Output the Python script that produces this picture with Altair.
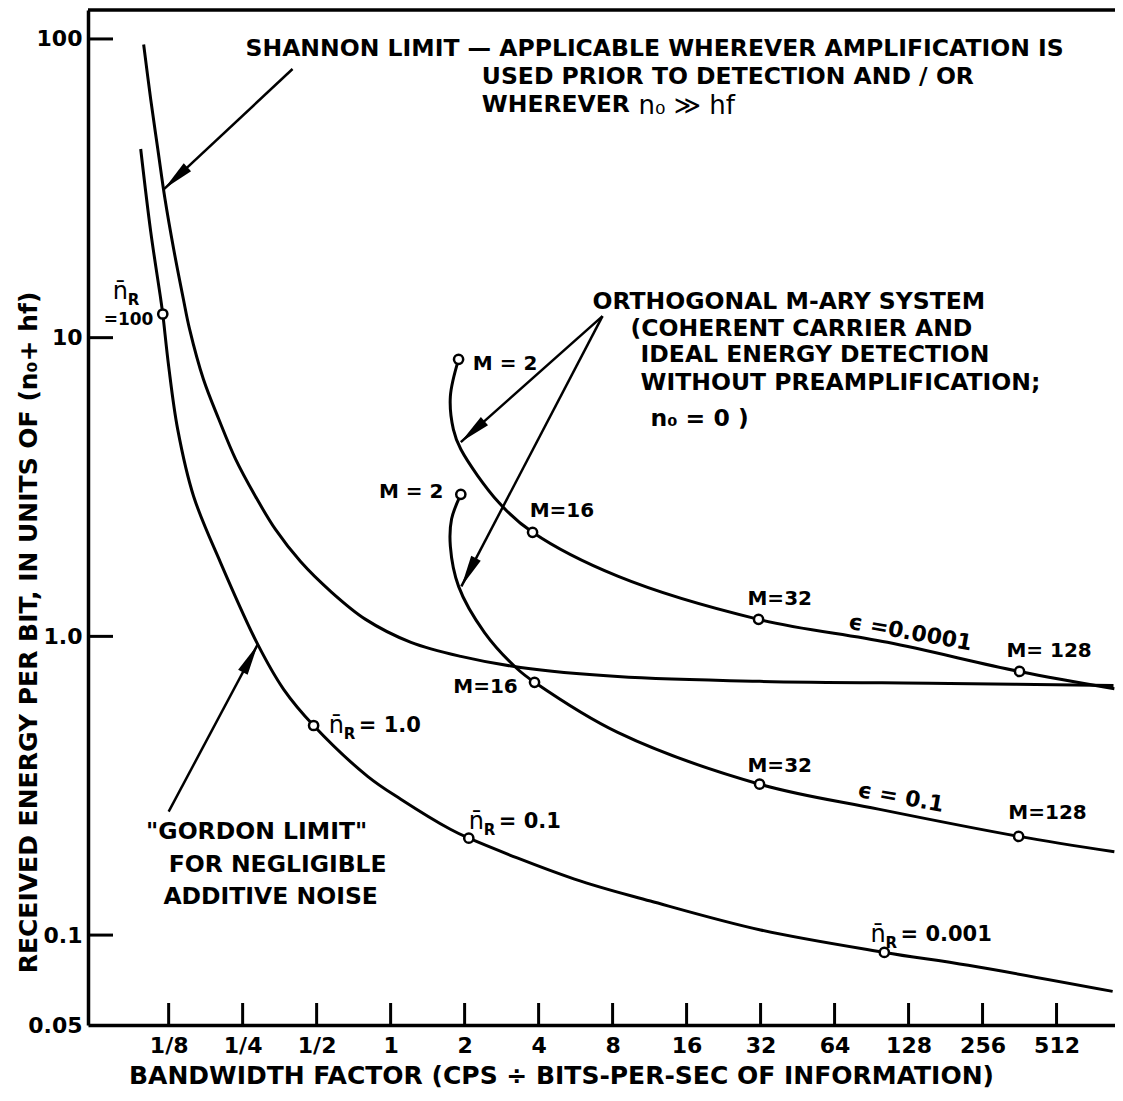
import math
import altair as alt
import pandas as pd

# ---------------- data ----------------
SHANNON_BW = [0.0989, 0.1056, 0.1129, 0.1208, 0.131, 0.1434, 0.152, 0.173, 0.200, 0.234, 0.282,
              0.340, 0.430, 0.570, 0.791, 1.21, 1.93, 3.38, 8.39, 31.7, 188, 873]
SHANNON_E = [95.8, 63.0, 42.8, 29.1, 19.8, 13.5, 10.7, 7.27, 5.33, 3.92, 2.94,
             2.28, 1.78, 1.415, 1.14, 0.955, 0.857, 0.787, 0.734, 0.707, 0.696, 0.685]

GORDON_BW = [0.0962, 0.1057, 0.116, 0.1183, 0.125, 0.136, 0.158, 0.203, 0.288, 0.367, 0.486,
             0.806, 1.10, 1.75, 2.08, 5.6, 11.4, 32, 102, 224, 866]
GORDON_E = [42.8, 22.6, 13.5, 12.0, 8.03, 4.94, 2.94, 1.77, 0.940, 0.665, 0.503,
            0.340, 0.285, 0.226, 0.211, 0.154, 0.130, 0.104, 0.0875, 0.0792, 0.0648]

EPS4_BW = [1.89, 1.75, 1.80, 1.93, 2.75, 3.78, 8.39, 31.4, 105, 362, 880]
EPS4_E = [8.46, 6.36, 4.93, 4.23, 2.81, 2.23, 1.59, 1.14, 0.955, 0.763, 0.668]

EPS1_BW = [1.93, 1.77, 1.75, 1.89, 2.41, 3.29, 3.85, 8.39, 31.7, 96.5, 359, 880]
EPS1_E = [2.99, 2.47, 2.00, 1.47, 1.03, 0.776, 0.702, 0.477, 0.320, 0.264, 0.214, 0.190]

MARK_BW = [0.1183, 0.486, 2.08, 102, 1.89, 3.78, 31.4, 362, 1.93, 3.85, 31.7, 359]
MARK_E = [12.0, 0.503, 0.211, 0.0875, 8.46, 2.23, 1.14, 0.763, 2.99, 0.702, 0.320, 0.214]

XTICK_VALUES = [0.125, 0.25, 0.5, 1, 2, 4, 8, 16, 32, 64, 128, 256, 512]
XTICK_LABELS = ["1/8", "1/4", "1/2", "1", "2", "4", "8", "16", "32", "64", "128", "256", "512"]
YTICK_VALUES = [0.05, 0.1, 1, 10, 100]
YTICK_LABELS = ["0.05", "0.1", "1.0", "10", "100"]
YTICK_MARKS = [0.1, 1, 10, 100]

X_TITLE = "BANDWIDTH FACTOR (CPS ÷ BITS-PER-SEC OF INFORMATION)"
Y_TITLE = "RECEIVED ENERGY PER BIT, IN UNITS OF (n₀+ hf)"

# annotation texts (data coordinates)
LEFT_TEXT = ["SHANNON LIMIT — APPLICABLE WHEREVER AMPLIFICATION IS",
             "USED PRIOR TO DETECTION AND / OR",
             "WHEREVER",
             "ORTHOGONAL M-ARY SYSTEM",
             "(COHERENT CARRIER AND",
             "IDEAL ENERGY DETECTION",
             "WITHOUT PREAMPLIFICATION;",
             "n₀ = 0 )"]
LEFT_X = [0.257, 2.35, 2.35, 6.63, 9.47, 10.4, 10.4, 11.4]
LEFT_Y = [92.6, 74.6, 60.1, 13.2, 10.7, 8.73, 7.04, 5.33]

BIG_TEXT = ["n₀ ≫ hf"]
BIG_X = [10.2]
BIG_Y = [59.5]

LABEL_TEXT = ["M = 2", "M=16", "M=32", "M= 128", "M=32", "M=128"]
LABEL_X = [2.16, 3.68, 28.3, 320, 28.3, 326]
LABEL_Y = [8.15, 2.62, 1.33, 0.891, 0.367, 0.257]

SMALL_TEXT = ["=100"]
SMALL_X = [0.0680]
SMALL_Y = [11.5]

RLABEL_TEXT = ["M = 2", "M=16"]
RLABEL_X = [1.64, 3.29]
RLABEL_Y = [3.04, 0.675]

CENTER_TEXT = ['"GORDON LIMIT"', "FOR NEGLIGIBLE", "ADDITIVE NOISE"]
CENTER_X = [0.285, 0.347, 0.325]
CENTER_Y = [0.222, 0.172, 0.134]

EPS_TEXT = ["ϵ =0.0001", "ϵ = 0.1"]
EPS_X = [130, 119]
EPS_Y = [1.03, 0.289]

NR_X = [0.0740, 0.56, 2.08, 89.6]
NR_Y = [14.2, 0.50, 0.240, 0.1004]
NR_VAL = ["", "= 1.0", "= 0.1", "= 0.001"]

ARROW_X1 = [0.399, 0.125, 7.28, 7.28]
ARROW_Y1 = [79.3, 0.259, 11.8, 11.8]
ARROW_X2 = [0.1200, 0.288, 1.93, 1.94]
ARROW_Y2 = [31.5, 0.94, 4.47, 1.47]

# ---------------- layout ----------------
W, H = 1027, 1015
XDOM = [2 ** -4.09, 2 ** 9.79]
YDOM = [0.05, 125]
FONT = "DejaVu Sans"
BOLD = "bold"

xs = alt.Scale(type="log", base=2, domain=XDOM, nice=False)
ys = alt.Scale(type="log", base=10, domain=YDOM, nice=False)


def label_expr(values, labels):
    parts = [f"abs(datum.value - {v}) < 1e-9 ? '{l}'" for v, l in zip(values, labels)]
    return " : ".join(parts) + " : ''"


x_axis = alt.Axis(values=XTICK_VALUES, labelExpr=label_expr(XTICK_VALUES, XTICK_LABELS),
                  ticks=False, grid=False, domain=True, domainColor="black", domainWidth=3.5,
                  labelFont=FONT, labelFontSize=22, labelFontWeight=BOLD, labelColor="black",
                  labelPadding=10, labelOverlap=False, labelFlush=False,
                  title=X_TITLE, titleFont=FONT, titleFontSize=25, titleFontWeight=BOLD,
                  titleColor="black", titleX=473, titleY=38, titleBaseline="top")
y_axis = alt.Axis(values=YTICK_VALUES, labelExpr=label_expr(YTICK_VALUES, YTICK_LABELS),
                  ticks=False, grid=False, domain=True, domainColor="black", domainWidth=3.5,
                  labelFont=FONT, labelFontSize=22, labelFontWeight=BOLD, labelColor="black",
                  labelPadding=6, labelOverlap=False, labelFlush=False,
                  title=Y_TITLE, titleFont=FONT, titleFontSize=25, titleFontWeight=BOLD,
                  titleColor="black", titleX=-52, titleY=622, titleAngle=270,
                  titleBaseline="alphabetic")


def X(field):
    return alt.X(field, scale=xs, axis=x_axis)


def Y(field):
    return alt.Y(field, scale=ys, axis=y_axis)


curves = pd.concat([
    pd.DataFrame({"bw": SHANNON_BW, "e": SHANNON_E, "curve": "shannon"}),
    pd.DataFrame({"bw": GORDON_BW, "e": GORDON_E, "curve": "gordon"}),
    pd.DataFrame({"bw": EPS4_BW, "e": EPS4_E, "curve": "eps4"}),
    pd.DataFrame({"bw": EPS1_BW, "e": EPS1_E, "curve": "eps1"}),
])
curves["ord"] = curves.groupby("curve").cumcount()

lines = alt.Chart(curves).mark_line(color="black", strokeWidth=3, interpolate="catmull-rom").encode(
    x=X("bw:Q"), y=Y("e:Q"), detail="curve:N", order="ord:Q")

frame = alt.Chart(pd.DataFrame({"a": [0]})).mark_rule(color="black", strokeWidth=3.5).encode(
    x=alt.value(0), x2=alt.value(W), y=alt.value(0))

xt = alt.Chart(pd.DataFrame({"v": XTICK_VALUES})).mark_rule(color="black", strokeWidth=3).encode(
    x=X("v:Q"), y=alt.value(H), y2=alt.value(H - 22))
yt = alt.Chart(pd.DataFrame({"v": YTICK_MARKS})).mark_rule(color="black", strokeWidth=3).encode(
    y=Y("v:Q"), x=alt.value(0), x2=alt.value(25))

# arrows
KX = W / (math.log2(XDOM[1]) - math.log2(XDOM[0]))
KY = H / (math.log10(YDOM[1]) - math.log10(YDOM[0]))
angles = []
for x1, y1, x2, y2 in zip(ARROW_X1, ARROW_Y1, ARROW_X2, ARROW_Y2):
    dx = KX * (math.log2(x2) - math.log2(x1))
    dy = -KY * (math.log10(y2) - math.log10(y1))
    angles.append(math.degrees(math.atan2(dx, -dy)) % 360)
arrows_df = pd.DataFrame({"x1": ARROW_X1, "y1": ARROW_Y1, "x2": ARROW_X2, "y2": ARROW_Y2, "ang": angles})

arrows = alt.Chart(arrows_df).mark_rule(color="black", strokeWidth=2.5).encode(
    x=X("x1:Q"), y=Y("y1:Q"), x2="x2:Q", y2="y2:Q")
heads = alt.Chart(arrows_df).mark_point(shape="M0,0L-0.34,2L0.34,2Z", filled=True, color="black",
                                        opacity=1, size=1000, strokeWidth=0).encode(
    x=X("x2:Q"), y=Y("y2:Q"), angle=alt.Angle("ang:Q", scale=None))

marks = alt.Chart(pd.DataFrame({"bw": MARK_BW, "e": MARK_E})).mark_point(
    shape="circle", filled=True, fill="white", stroke="black", strokeWidth=2.5, size=85, opacity=1
).encode(x=X("bw:Q"), y=Y("e:Q"))


def text_layer(texts, xv, yv, size, align="left", angle=0, dx=0, dy=0, weight=BOLD):
    df = pd.DataFrame({"t": texts, "x": xv, "y": yv})
    return alt.Chart(df).mark_text(font=FONT, fontSize=size, fontWeight=weight, align=align,
                                   baseline="middle", color="black", angle=angle, dx=dx, dy=dy).encode(
        x=X("x:Q"), y=Y("y:Q"), text="t:N")


t_left = text_layer(LEFT_TEXT, LEFT_X, LEFT_Y, 23.5)
t_big = text_layer(BIG_TEXT, BIG_X, BIG_Y, 26, weight="normal")
t_lab = text_layer(LABEL_TEXT, LABEL_X, LABEL_Y, 20)
t_small = text_layer(SMALL_TEXT, SMALL_X, SMALL_Y, 17)
t_rlab = text_layer(RLABEL_TEXT, RLABEL_X, RLABEL_Y, 20, align="right")
t_center = text_layer(CENTER_TEXT, CENTER_X, CENTER_Y, 23.5, align="center")
t_eps = text_layer(EPS_TEXT, EPS_X, EPS_Y, 22, align="center", angle=10)
t_nr = text_layer(["n\u0304"] * len(NR_X), NR_X, NR_Y, 24, weight="normal")
t_nr_sub = text_layer(["R"] * len(NR_X), NR_X, NR_Y, 15, dx=15, dy=8)
t_nr_val = text_layer(NR_VAL, NR_X, NR_Y, 21, dx=30)

chart = alt.layer(
    frame, xt, yt, lines, arrows, heads, marks,
    t_left, t_big, t_lab, t_small, t_rlab, t_center, t_eps, t_nr, t_nr_sub, t_nr_val,
).properties(
    width=W, height=H,
    padding={"left": 80, "top": 2, "right": 0, "bottom": 68},
    autosize=alt.AutoSizeParams(type="none"),
).configure_view(strokeWidth=0).configure(font=FONT)

chart.save("out.html", embed_options={"renderer": "svg", "actions": False})
